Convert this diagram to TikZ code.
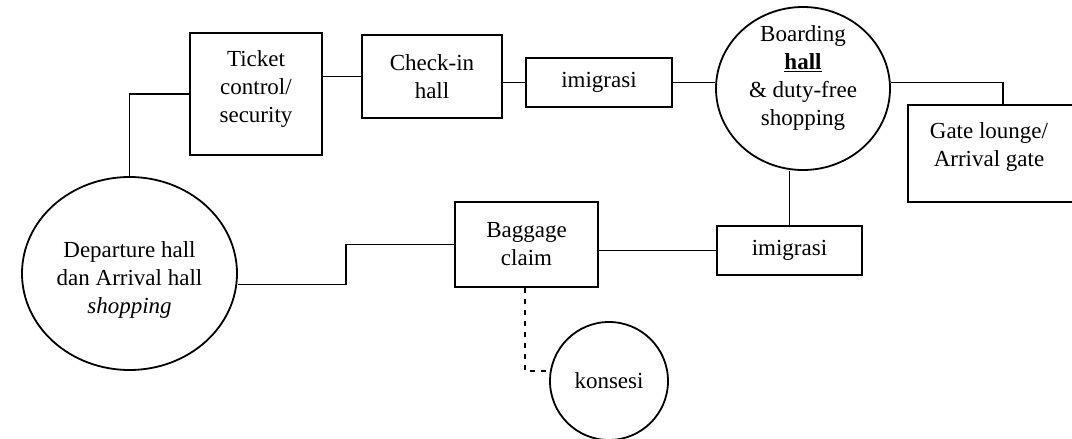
\documentclass[tikz,border=0pt]{standalone}
\usepackage{fontspec}
\setmainfont{Liberation Serif}
\usetikzlibrary{shapes.geometric}

\tikzset{
  base/.style={draw=black, line width=1.8pt, inner sep=0pt, align=center,
               font=\fontsize{23}{28}\selectfont},
  stepbox/.style={base, rectangle},
  hallshape/.style={base, ellipse},
  inside/.style={align=center, font=\fontsize{23}{28}\selectfont, inner sep=0pt},
  link/.style={draw=black, line width=1.6pt},
  dashlink/.style={link, dash pattern=on 5pt off 6pt}
}

\begin{document}
\begin{tikzpicture}[x=1pt, y=-1pt]
  \useasboundingbox (0,0) rectangle (1072,439);
  \clip (0,0) rectangle (1072,439);

  % upper row: departure path
  \node[stepbox, minimum width=132pt, minimum height=122pt,
        label={[inside, yshift=5pt]center:{Ticket\\control/\\security}}]
        (ticket) at (256,94) {};
  \node[stepbox, minimum width=140pt, minimum height=83pt]
        (checkin) at (432,76.5) {Check-in\\hall};
  \node[stepbox, minimum width=146pt, minimum height=49pt]
        (imi1) at (599,82.5) {imigrasi};
  \node[hallshape, minimum width=174pt, minimum height=163pt,
        label={[inside, yshift=10pt]center:{Boarding\\\textbf{\underline{hall}}\\\& duty-free\\shopping}}]
        (boarding) at (803,88.5) {};
  \node[stepbox, minimum width=170pt, minimum height=97pt,
        label={[inside, xshift=-4pt, yshift=6pt]center:{Gate lounge/\\Arrival gate}}]
        (gate) at (993,153.5) {};

  % lower row: arrival path
  \node[hallshape, minimum width=215pt, minimum height=193pt,
        label={[inside, yshift=-6pt]center:{Departure hall\\dan Arrival hall\\\textit{shopping}}}]
        (departure) at (129.5,273.5) {};
  \node[stepbox, minimum width=143pt, minimum height=85pt]
        (baggage) at (526.5,244.5) {Baggage\\claim};
  \node[stepbox, minimum width=145pt, minimum height=49pt]
        (imi2) at (789.5,250.5) {imigrasi};
  \node[hallshape, minimum width=118pt, minimum height=118pt]
        (konsesi) at (609,381) {konsesi};

  % connectors
  \draw[link] (departure.north) |- (ticket.west);
  \draw[link] (ticket.east |- checkin.west) -- (checkin.west);
  \draw[link] (checkin.east |- imi1.west) -- (imi1.west);
  \draw[link] (imi1.east) -- (imi1.east -| boarding.west);
  \draw[link] ([yshift=6pt]boarding.east) -| ([xshift=10pt]gate.north);
  \draw[link] (imi2.north) -- (imi2.north |- boarding.south);
  \draw[link] (baggage.east |- imi2.west) -- (imi2.west);
  \draw[link] ([yshift=-11pt]departure.east) -- ++(108,0) |- (baggage.west);
  \draw[dashlink] ([xshift=-1.5pt]baggage.south) |- ([yshift=10pt]konsesi.west);
\end{tikzpicture}
\end{document}
